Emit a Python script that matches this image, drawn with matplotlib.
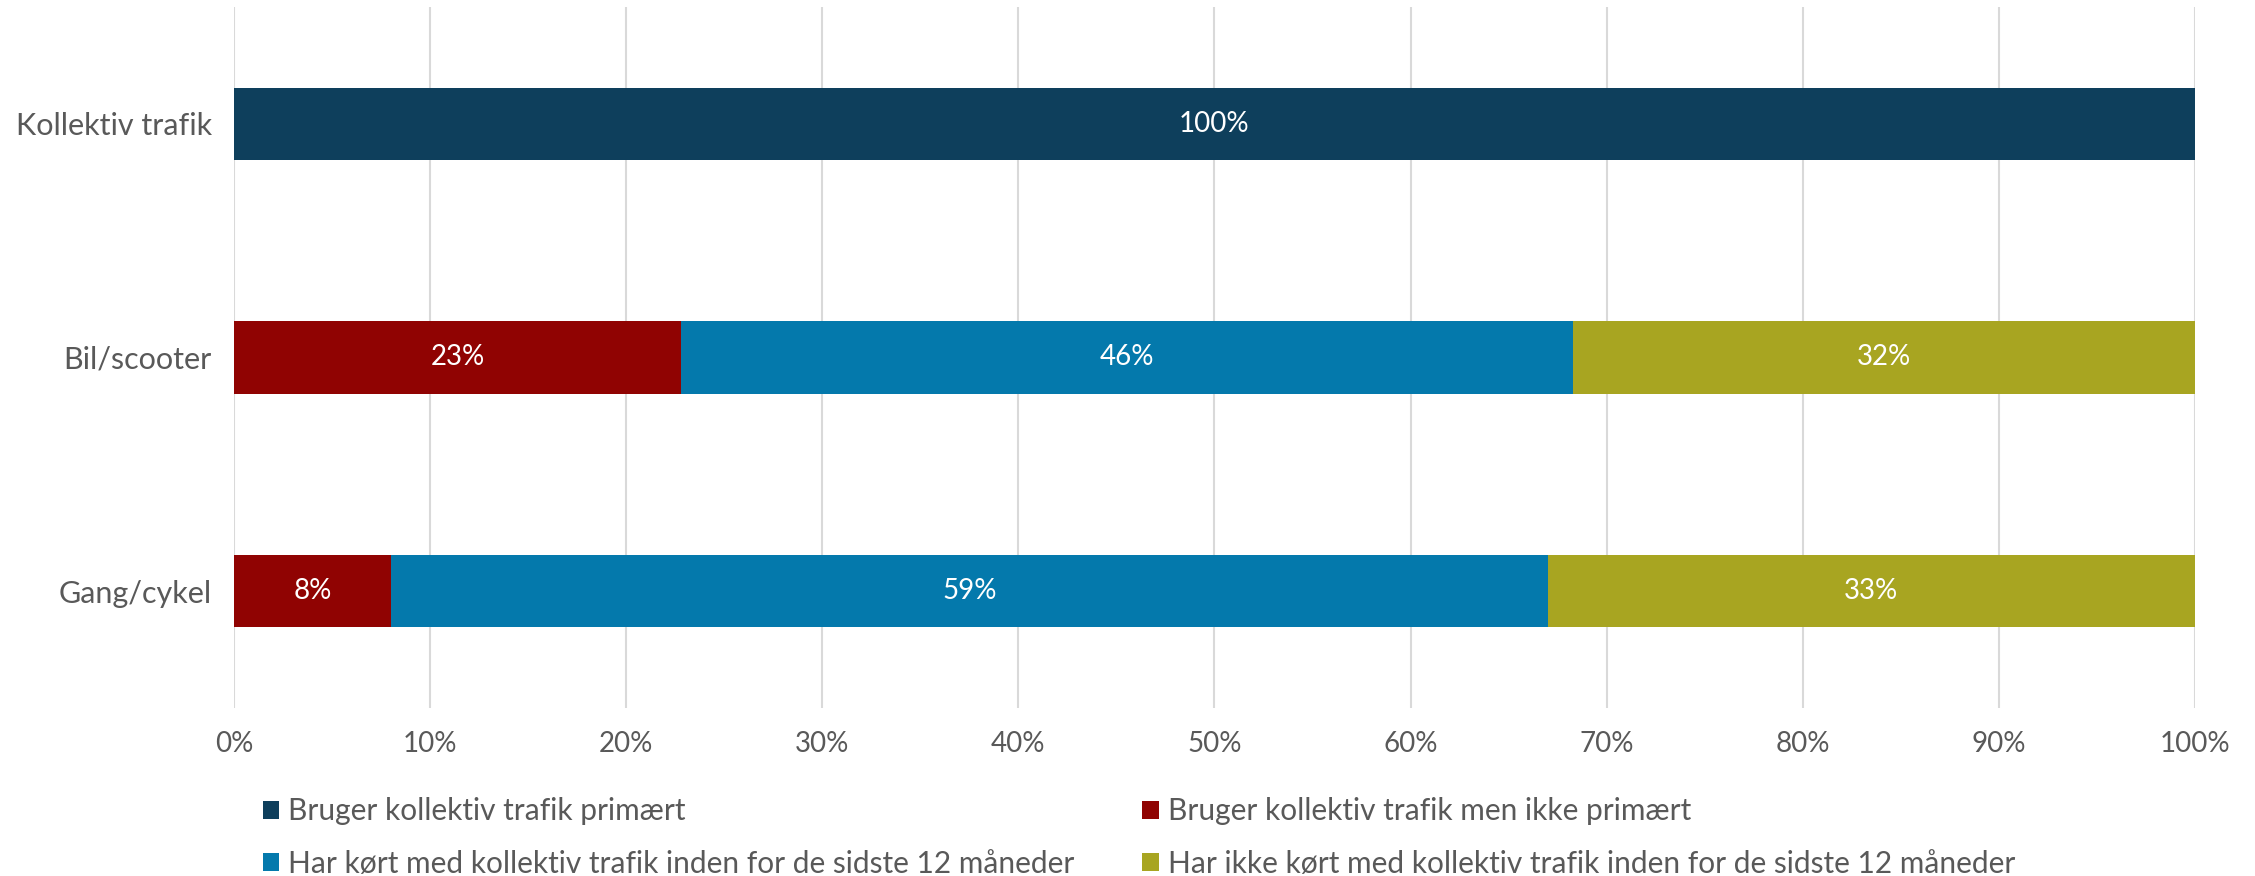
import matplotlib
matplotlib.use("Agg")
import matplotlib.pyplot as plt
from matplotlib.patches import Patch

categories = ["Kollektiv trafik", "Bil/scooter", "Gang/cykel"]
series_names = [
    "Bruger kollektiv trafik primært",
    "Bruger kollektiv trafik men ikke primært",
    "Har kørt med kollektiv trafik inden for de sidste 12 måneder",
    "Har ikke kørt med kollektiv trafik inden for de sidste 12 måneder",
]
primaert = [100.0, 0.0, 0.0]
ikke_primaert = [0.0, 22.8, 8.0]
koert_12 = [0.0, 45.5, 59.0]
ikke_koert_12 = [0.0, 31.7, 33.0]
series_values = [primaert, ikke_primaert, koert_12, ikke_koert_12]
colors = ["#0E3F5C", "#900302", "#0479AC", "#A8A521"]
xticks = [0, 10, 20, 30, 40, 50, 60, 70, 80, 90, 100]

FONT = ["Lato", "DejaVu Sans"]
plt.rcParams["font.family"] = FONT
TXT = "#595959"
FS_CAT = 22
FS_NUM = 20
FS_LEG = 21.5

fig = plt.figure(figsize=(22.55, 8.76), dpi=100)
ax = fig.add_axes([0.1038, 0.192, 0.8695, 0.800])

ypos = list(range(len(categories)))
left = [0.0] * len(categories)
for name, vals, col in zip(series_names, series_values, colors):
    bars = ax.barh(ypos, vals, left=left, height=0.31, color=col, label=name, zorder=3)
    for b, v in zip(bars, vals):
        if v > 0:
            ax.text(b.get_x() + b.get_width() / 2, b.get_y() + b.get_height() / 2,
                    f"{round(v):.0f}%", ha="center", va="center", color="white",
                    fontsize=FS_NUM, zorder=4)
    left = [l + v for l, v in zip(left, vals)]

ax.set_xlim(0, 100)
ax.set_ylim(2.5, -0.5)
ax.set_yticks(ypos)
ax.set_yticklabels(categories)
ax.set_xticks(xticks)
ax.set_xticklabels([f"{t}%" for t in xticks])
ax.tick_params(axis="both", length=0, labelcolor=TXT)
ax.tick_params(axis="y", pad=16, labelsize=FS_CAT)
ax.tick_params(axis="x", pad=17, labelsize=FS_NUM)
for s in ax.spines.values():
    s.set_visible(False)
ax.grid(axis="x", color="#D9D9D9", linewidth=1.5, zorder=0)
ax.set_axisbelow(True)

h = [Patch(facecolor=c) for c in colors]
common = dict(loc="upper left", frameon=False, fontsize=FS_LEG, labelcolor=TXT,
              handlelength=0.55, handleheight=0.55, handletextpad=0.3,
              labelspacing=0.83, borderpad=0, borderaxespad=0)
leg1 = fig.legend([h[0], h[2]], [series_names[0], series_names[2]],
                  bbox_to_anchor=(0.1165, 0.090), **common)
leg2 = fig.legend([h[1], h[3]], [series_names[1], series_names[3]],
                  bbox_to_anchor=(0.5065, 0.090), **common)

fig.savefig("out.png", dpi=100)
